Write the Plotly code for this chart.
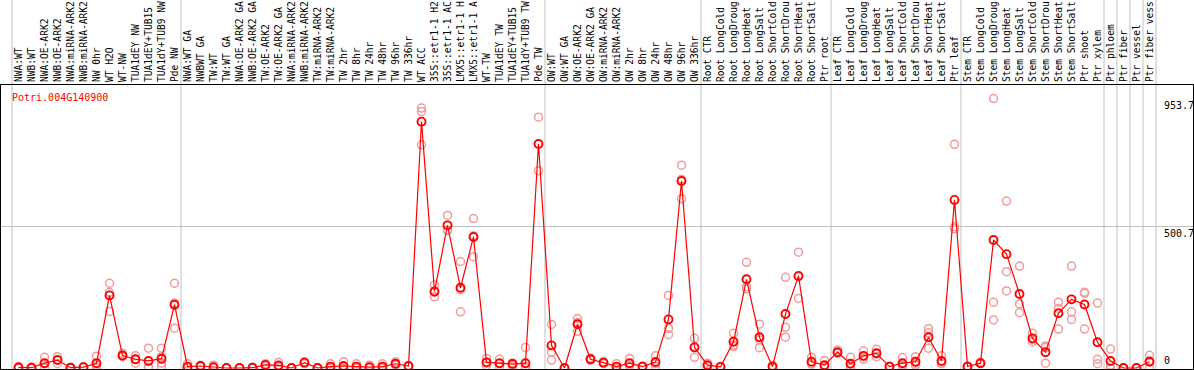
import plotly.graph_objects as go

gene_name = "Potri.004G140900"

categories = [
    "NWA:WT", "NWB:WT", "NWA:OE-ARK2", "NWB:OE-ARK2", "NWA:miRNA-ARK2", "NWB:miRNA-ARK2",
    "NW 0hr", "WT H2O", "WT-NW", "TUA1dEY NW", "TUA1dEY+TUB15 NW", "TUA1dY+TUB9 NW", "Pde NW",
    "NWA:WT GA", "NWBWT GA", "TW:WT", "TW:WT GA", "NWA:OE-ARK2 GA", "NWB:OE-ARK2 GA",
    "TW:OE-ARK2", "TW:OE-ARK2 GA", "NWA:miRNA-ARK2", "NWB:miRNA-ARK2", "TW:miRNA-ARK2",
    "TW:miRNA-ARK2", "TW 2hr", "TW 8hr", "TW 24hr", "TW 48hr", "TW 96hr", "TW 336hr",
    "WT ACC", "35S::etr1-1 H2O", "35S::etr1-1 ACC", "LMX5::etr1-1 H2O", "LMX5::etr1-1 ACC",
    "WT-TW", "TUA1dEY TW", "TUA1dEY+TUB15 TW", "TUA1dY+TUB9 TW", "Pde TW",
    "OW:WT", "OW:WT GA", "OW:OE-ARK2", "OW:OE-ARK2 GA", "OW:miRNA-ARK2", "OW:miRNA-ARK2",
    "OW 2hr", "OW 8hr", "OW 24hr", "OW 48hr", "OW 96hr", "OW 336hr",
    "Root CTR", "Root LongCold", "Root LongDrought", "Root LongHeat", "Root LongSalt",
    "Root ShortCold", "Root ShortDrought", "Root ShortHeat", "Root ShortSalt", "Ptr root",
    "Leaf CTR", "Leaf LongCold", "Leaf LongDrought", "Leaf LongHeat", "Leaf LongSalt",
    "Leaf ShortCold", "Leaf ShortDrought", "Leaf ShortHeat", "Leaf ShortSalt", "Ptr leaf",
    "Stem CTR", "Stem LongCold", "Stem LongDrought", "Stem LongHeat", "Stem LongSalt",
    "Stem ShortCold", "Stem ShortDrought", "Stem ShortHeat", "Stem ShortSalt", "Ptr shoot",
    "Ptr xylem", "Ptr phloem", "Ptr fiber", "Ptr vessel", "Ptr fiber vessel",
]

mean_values = [
    2, 1, 17, 28, 1, 3, 17, 257, 44, 31, 25, 33, 224,
    5, 7, 3, 0, 0, 1, 11, 9, 0, 19, 0, 5, 7, 5, 3, 5, 15, 7,
    872, 271, 505, 284, 464, 20, 17, 14, 17, 793,
    80, 0, 155, 31, 19, 5, 17, 5, 21, 172, 662, 73,
    10, 4, 93, 314, 109, 5, 191, 326, 22, 10,
    56, 15, 43, 52, 5, 17, 22, 109, 25, 595,
    5, 17, 453, 403, 262, 105, 56, 194, 243, 225,
    91, 25, 0, 0, 22,
]

replicate_values = [
    [0, 2, 5], [0, 1, 3], [38, 15, 0], [40, 15, 30], [0, 2, 2], [2, 4, 3],
    [42, 9, 0], [300, 268, 200], [52, 40, 44], [43, 17, 30], [70, 3, 2],
    [70, 40, 17, 5], [300, 141, 230],
    [15, 0, 0], [10, 5, 6], [10, 0, 0], [0, 0, 0], [0, 1, 0], [3, 0, 1],
    [15, 5, 11], [20, 4, 3], [0, 0, 1], [22, 15, 19], [0, 0, 0], [15, 0, 0],
    [22, 0, 0], [15, 0, 0], [10, 0, 0], [15, 0, 0], [22, 15, 10], [8, 5, 7],
    [920, 908, 790], [294, 252, 268], [540, 488, 487], [377, 199, 277], [529, 394, 468],
    [34, 17, 8], [31, 15, 5], [17, 7, 18], [73, 5, 0, 0, 5], [888, 698],
    [154, 57, 28], [0, 0, 0], [175, 161, 130], [35, 30, 28], [22, 15, 19], [15, 0, 0],
    [34, 10, 7], [7, 3, 4], [43, 15, 5], [257, 140, 118], [718, 668, 599], [105, 38, 76],
    [17, 7, 5], [5, 5, 3], [123, 76, 81], [374, 288, 280], [155, 72, 100],
    [0, 5, 9], [321, 144, 109], [410, 246, 323], [38, 14, 15], [26, 0, 5],
    [64, 53, 52], [38, 5, 0], [60, 31, 39], [66, 40, 50], [5, 3, 6],
    [37, 10, 5], [40, 10, 17], [139, 125, 70], [43, 15, 17], [792, 500, 493],
    [5, 3, 7], [17, 15, 20], [953.7, 233, 170], [591, 341, 273], [361, 227, 196],
    [123, 93, 100], [78, 17, 73], [233, 211, 138], [361, 199, 172], [268, 265, 138],
    [230, 31, 15], [67, 10, 0], [0, 0, 0], [0, 0, 0], [45, 26, 0],
]

y_tick_labels = ["0", "500.7", "953.7"]
y_tick_values = [0, 500.7, 953.7]

# category boundaries where separator lines are drawn
group_boundaries = [-0.5, 12.5, 40.5, 52.5, 62.5, 72.5, 83.5, 84.5, 85.5, 86.5, 87.5]

# the chart shows only the first 14 characters of each label
LABEL_CHARS = 14
tick_text = [c[:LABEL_CHARS].rstrip() for c in categories]

W, H = 1194, 370
ML, MR, MT, MB = 1, 1, 85, 1
x_range = [(1 - 18.5) / 13.0, (1193 - 18.5) / 13.0]
k = 3.54
y_range = [-(369 - 368) * k, (368 - 85) * k]

mono = "DejaVu Sans Mono"

x_idx = list(range(len(categories)))
rep_x, rep_y = [], []
for i, reps in enumerate(replicate_values):
    for v in reps:
        rep_x.append(i)
        rep_y.append(v)

fig = go.Figure()
fig.add_trace(go.Scatter(
    x=rep_x, y=rep_y, mode="markers", cliponaxis=False, hoverinfo="skip",
    marker=dict(symbol="circle-open", size=8, color="#f09c9c", line=dict(width=1.5)),
    showlegend=False,
))
fig.add_trace(go.Scatter(
    x=x_idx, y=mean_values, mode="lines+markers", cliponaxis=False,
    line=dict(color="#ff0000", width=1.2),
    marker=dict(symbol="circle-open", size=8, color="#ff0000", line=dict(width=1.9)),
    showlegend=False,
))

shapes = []
for b in group_boundaries:
    px = (b - x_range[0]) / (x_range[1] - x_range[0])
    shapes.append(dict(type="line", xref="paper", yref="paper", x0=px, x1=px,
                       y0=0, y1=1.31, line=dict(color="#c0c0c0", width=1), layer="below"))

annotations = [dict(
    text=gene_name, xref="paper", yref="paper", x=(10 - ML) / (W - ML - MR),
    y=(369 - 97) / (H - MT - MB), xanchor="left", yanchor="middle", showarrow=False,
    font=dict(family=mono, size=10, color="#ff0000"),
)]
lab_x = (1162 - ML) / (W - ML - MR)
for lab, val in zip(y_tick_labels, y_tick_values):
    annotations.append(dict(
        text=lab, xref="paper", yref="y", x=lab_x, y=val, xanchor="left",
        yanchor="bottom" if val == 0 else "top", yshift=(0 if val == 0 else 1),
        showarrow=False, font=dict(family=mono, size=10, color="#000000"),
    ))

fig.update_layout(
    width=W, height=H, margin=dict(l=ML, r=MR, t=MT, b=MB, pad=0, autoexpand=False),
    paper_bgcolor="white", plot_bgcolor="rgba(0,0,0,0)",
    shapes=shapes, annotations=annotations, showlegend=False,
)
fig.update_xaxes(
    range=x_range, side="top", tickmode="array", tickvals=x_idx, ticktext=tick_text,
    tickangle=-90, ticks="", showgrid=False, zeroline=False, automargin=False,
    showline=True, mirror=True, linecolor="black", linewidth=1,
    tickfont=dict(family=mono, size=9.6, color="black"),
)
fig.update_yaxes(
    range=y_range, tickmode="array", tickvals=[500.7], showticklabels=False, ticks="",
    showgrid=True, gridcolor="#c0c0c0", gridwidth=1, zeroline=False, automargin=False,
    showline=True, mirror=True, linecolor="black", linewidth=1,
)

fig.write_html(
    "out.html",
    config={"displayModeBar": False},
    post_script="document.body.style.margin='0';document.body.style.padding='0';"
                "document.body.style.overflow='hidden';",
)
